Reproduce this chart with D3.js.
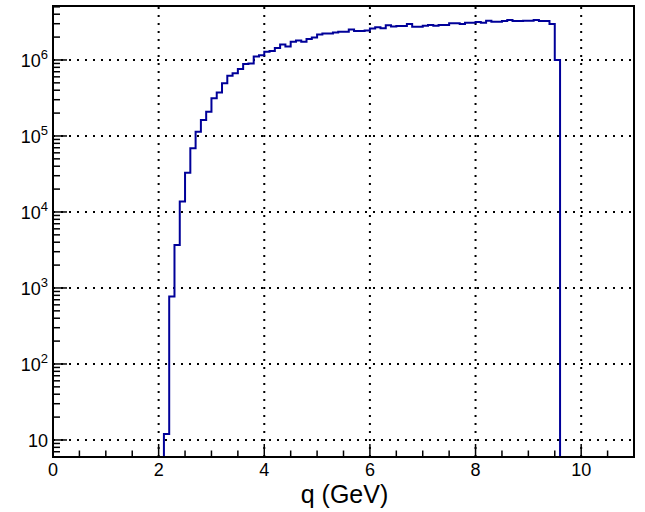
<!DOCTYPE html>
<html>
<head>
<meta charset="utf-8">
<script src="https://cdn.jsdelivr.net/npm/d3@7/dist/d3.min.js"></script>
<style>
  html, body { margin: 0; padding: 0; background: #fff; }
  svg { display: block; }
  text { font-family: "Liberation Sans", Arial, Helvetica, sans-serif; fill: #000; }
</style>
</head>
<body>
<svg id="chart" width="645" height="512"></svg>
<script>
// Histogram binning: 0.1 GeV bins, first bin starts at 2.1 GeV
const binStart = 2.1;
const binWidth = 0.1;
// Bin contents (entries per bin), 2.1 .. 9.6 GeV
const counts = [
  12, 770, 3680, 1.37e4, 3.29e4, 6.9e4, 1.14e5, 1.62e5, 2.09e5, 3.13e5,
  3.72e5, 4.93e5, 6.21e5, 6.68e5, 7.6e5, 8.85e5, 9.0e5, 1.11e6, 1.15e6, 1.28e6,
  1.31e6, 1.44e6, 1.60e6, 1.50e6, 1.74e6, 1.80e6, 1.74e6, 1.89e6, 1.98e6, 2.16e6,
  2.23e6, 2.23e6, 2.30e6, 2.36e6, 2.36e6, 2.52e6, 2.41e6, 2.40e6, 2.44e6, 2.60e6,
  2.69e6, 2.61e6, 2.86e6, 2.76e6, 2.80e6, 2.80e6, 2.98e6, 2.74e6, 2.74e6, 2.83e6,
  2.89e6, 2.83e6, 2.89e6, 2.89e6, 3.04e6, 3.04e6, 2.98e6, 3.10e6, 3.10e6, 3.16e6,
  3.10e6, 3.29e6, 3.19e6, 3.19e6, 3.26e6, 3.36e6, 3.26e6, 3.26e6, 3.29e6, 3.29e6,
  3.36e6, 3.26e6, 3.26e6, 2.98e6, 1.0e6
];
// Axis ranges and ticks
const xRange = [0, 11];
const yRange = [5.97, 5.13e6];
const xMajorTicks = [0, 2, 4, 6, 8, 10];
const yMajorExponents = [1, 2, 3, 4, 5, 6];
const xTitle = "q (GeV)";

const svg = d3.select("#chart");
const frame = { left: 53, right: 634, top: 6, bottom: 457 };

const x = d3.scaleLinear().domain(xRange).range([frame.left, frame.right]);
const y = d3.scaleLog().domain(yRange).range([frame.bottom, frame.top]);

svg.append("defs").append("clipPath").attr("id", "frameClip")
  .append("rect")
  .attr("x", frame.left).attr("y", frame.top)
  .attr("width", frame.right - frame.left).attr("height", frame.bottom - frame.top);

// Dotted grid at major ticks
const grid = svg.append("g").attr("stroke", "#000").attr("stroke-width", 2)
  .attr("stroke-dasharray", "2,6");
xMajorTicks.filter(v => v > xRange[0] && v < xRange[1]).forEach(v => {
  grid.append("line")
    .attr("x1", x(v)).attr("x2", x(v))
    .attr("y1", frame.bottom).attr("y2", frame.top);
});
yMajorExponents.forEach(e => {
  grid.append("line")
    .attr("x1", frame.left).attr("x2", frame.right)
    .attr("y1", y(Math.pow(10, e))).attr("y2", y(Math.pow(10, e)));
});

// Histogram outline
const bins = counts.map((c, i) => ({
  lo: binStart + i * binWidth,
  hi: binStart + (i + 1) * binWidth,
  value: c
}));
const yOf = v => (v > yRange[0] ? y(v) : frame.bottom);
const pts = [[x(bins[0].lo), frame.bottom]];
bins.forEach(b => {
  pts.push([x(b.lo), yOf(b.value)]);
  pts.push([x(b.hi), yOf(b.value)]);
});
pts.push([x(bins[bins.length - 1].hi), frame.bottom]);

svg.append("path")
  .attr("clip-path", "url(#frameClip)")
  .attr("d", d3.line()(pts))
  .attr("fill", "none")
  .attr("stroke", "#000099")
  .attr("stroke-width", 2)
  .attr("stroke-linejoin", "miter");

// X axis: ticks every 0.5, labels at even values
const xTickVals = d3.range(xRange[0], xRange[1] + 0.001, 0.5);
const xAxisG = svg.append("g").attr("transform", `translate(0,${frame.bottom})`);
xAxisG.selectAll("line.tick").data(xTickVals).join("line")
  .attr("x1", d => x(d)).attr("x2", d => x(d))
  .attr("y1", 0)
  .attr("y2", d => (xMajorTicks.includes(d) ? -13 : -6.5))
  .attr("stroke", "#000").attr("stroke-width", 1.5);
xAxisG.selectAll("text").data(xMajorTicks).join("text")
  .attr("x", d => x(d)).attr("y", 19)
  .attr("text-anchor", "middle")
  .attr("font-size", 18)
  .text(d => d);

// Y axis: log ticks on the left edge
const yAxisG = svg.append("g").attr("transform", `translate(${frame.left},0)`);
const yMinor = [];
for (let e = 0; e <= 6; e++) {
  for (let k = 2; k <= 9; k++) {
    const v = k * Math.pow(10, e);
    if (v >= yRange[0] && v <= yRange[1]) yMinor.push(v);
  }
}
yAxisG.selectAll("line.minor").data(yMinor).join("line")
  .attr("class", "minor")
  .attr("x1", 0).attr("x2", 7)
  .attr("y1", d => y(d)).attr("y2", d => y(d))
  .attr("stroke", "#000").attr("stroke-width", 1.5);
yAxisG.selectAll("line.major").data(yMajorExponents).join("line")
  .attr("class", "major")
  .attr("x1", 0).attr("x2", 14)
  .attr("y1", d => y(Math.pow(10, d))).attr("y2", d => y(Math.pow(10, d)))
  .attr("stroke", "#000").attr("stroke-width", 1.5);

const yLabels = yAxisG.selectAll("text").data(yMajorExponents).join("text")
  .attr("x", -5)
  .attr("y", d => y(Math.pow(10, d)) + 7)
  .attr("text-anchor", "end")
  .attr("font-size", 18);
yLabels.each(function(d) {
  const t = d3.select(this);
  if (d === 1) {
    t.text("10");
  } else {
    t.append("tspan").text("10");
    t.append("tspan").attr("dy", -8).attr("font-size", 13).text(d);
  }
});

// Frame
svg.append("rect")
  .attr("x", frame.left).attr("y", frame.top)
  .attr("width", frame.right - frame.left).attr("height", frame.bottom - frame.top)
  .attr("fill", "none").attr("stroke", "#000").attr("stroke-width", 2);

// Axis title
svg.append("text")
  .attr("x", (frame.left + frame.right) / 2 + 1)
  .attr("y", 503)
  .attr("text-anchor", "middle")
  .attr("font-size", 25)
  .text(xTitle);
</script>
</body>
</html>
